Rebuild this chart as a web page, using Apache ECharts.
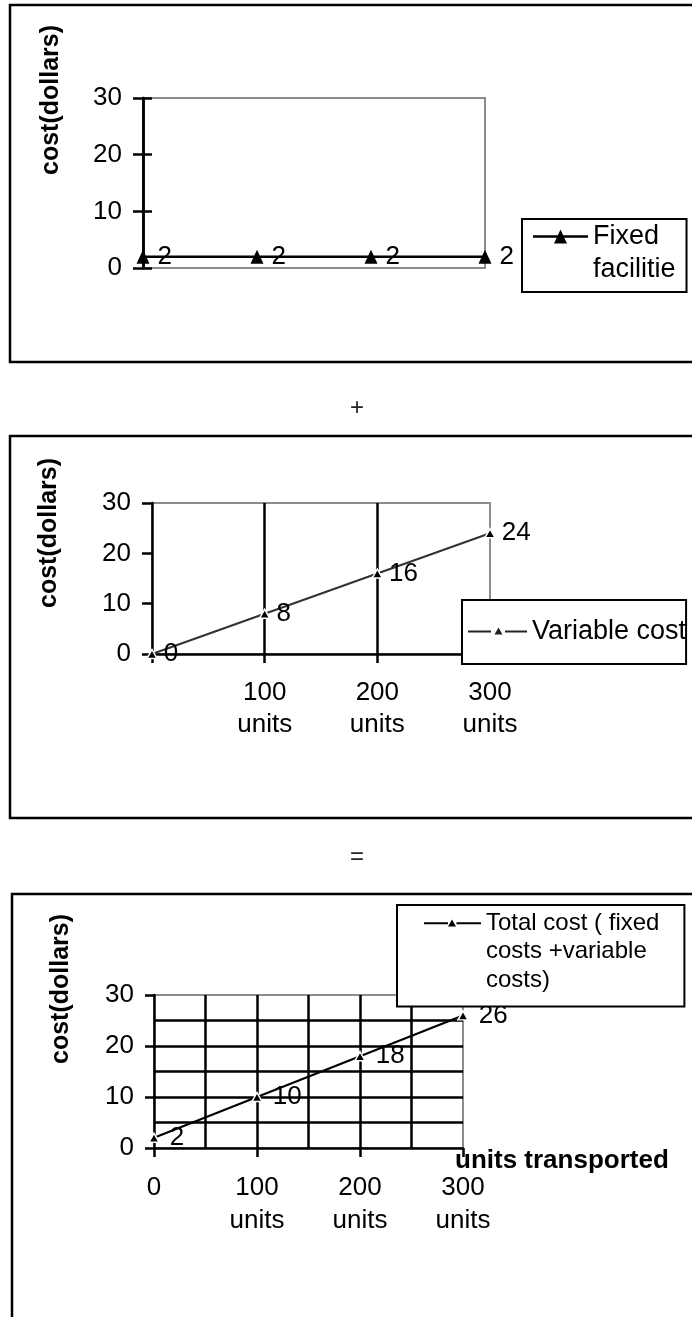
<!DOCTYPE html>
<html>
<head>
<meta charset="utf-8">
<script src="https://cdn.jsdelivr.net/npm/echarts@6/dist/echarts.min.js"></script>
<style>
html,body{margin:0;padding:0;background:#fff;}
#chart{width:692px;height:1317px;}
</style>
</head>
<body>
<div id="chart"></div>
<script>
// ---- data ----
const units = [0, 100, 200, 300];
const fixedCost = [2, 2, 2, 2];
const variableCost = [0, 8, 16, 24];
const totalCost = [2, 10, 18, 26];
const xLabelsVariable = ['', '100\nunits', '200\nunits', '300\nunits'];
const xLabelsTotal = ['0', '100\nunits', '200\nunits', '300\nunits'];
const seriesNames = ['Fixed\nfacilitie', 'Variable cost', 'Total cost ( fixed\ncosts +variable\ncosts)'];
const yTitle = 'cost(dollars)';
const xTitle = 'units transported';

const FONT = "'Liberation Sans', Arial, Helvetica, sans-serif";
const GRAY = '#8c8c8c';
const LW = 2.5;

const chart = echarts.init(document.getElementById('chart'), null, {renderer: 'canvas'});

function pairs(vals) { return units.map((u, i) => [u, vals[i]]); }

function yAxisBase(grid, extra) {
  return Object.assign({
    type: 'value', gridIndex: grid, min: 0, max: 30, interval: 10, position: 'left', offset: 0,
    axisLine: {show: true, onZero: false, lineStyle: {color: '#000', width: LW}},
    axisTick: {show: true, inside: false, length: 10, lineStyle: {color: '#000', width: LW}},
    axisLabel: {show: true, margin: 21, fontSize: 26, color: '#000', fontFamily: FONT},
    splitLine: {show: false}
  }, extra || {});
}

const option = {
  animation: false,
  backgroundColor: '#fff',
  textStyle: {fontFamily: FONT},
  grid: [
    {left: 143, top: 98, width: 342, height: 170, show: true, borderColor: GRAY, borderWidth: 2, outerBoundsMode: 'none', containLabel: false},
    {left: 152, top: 503, width: 338, height: 151, show: true, borderColor: GRAY, borderWidth: 2, outerBoundsMode: 'none', containLabel: false},
    {left: 154, top: 995, width: 309, height: 153, show: true, borderColor: GRAY, borderWidth: 2, outerBoundsMode: 'none', containLabel: false}
  ],
  xAxis: [
    {
      type: 'value', gridIndex: 0, min: 0, max: 300, interval: 100,
      axisLine: {show: true, onZero: false, lineStyle: {color: GRAY, width: 2}},
      axisTick: {show: false}, axisLabel: {show: false}, splitLine: {show: false}
    },
    {
      type: 'value', gridIndex: 1, min: 0, max: 300, interval: 100,
      axisLine: {show: true, onZero: false, lineStyle: {color: '#000', width: LW}},
      axisTick: {show: true, length: 9, lineStyle: {color: '#000', width: LW}},
      axisLabel: {show: true, margin: 23, fontSize: 26, lineHeight: 32, color: '#000', fontFamily: FONT,
        formatter: v => xLabelsVariable[units.indexOf(v)] || ''},
      splitLine: {show: true, showMinLine: false, showMaxLine: false, lineStyle: {color: '#000', width: LW}}
    },
    {
      type: 'value', gridIndex: 2, min: 0, max: 300, interval: 100,
      name: xTitle, nameLocation: 'end', nameGap: -8, nameMoveOverlap: false,
      nameTextStyle: {fontSize: 26, fontWeight: 'bold', color: '#000', fontFamily: FONT, align: 'left', verticalAlign: 'top'},
      axisLine: {show: true, onZero: false, lineStyle: {color: '#000', width: LW}},
      axisTick: {show: true, length: 9, lineStyle: {color: '#000', width: LW}},
      axisLabel: {show: true, margin: 23, fontSize: 26, lineHeight: 33, color: '#000', fontFamily: FONT,
        formatter: v => xLabelsTotal[units.indexOf(v)] || ''},
      splitLine: {show: true, showMinLine: false, showMaxLine: false, lineStyle: {color: '#000', width: LW}},
      minorTick: {show: false, splitNumber: 2},
      minorSplitLine: {show: true, lineStyle: {color: '#000', width: LW}}
    }
  ],
  yAxis: [
    yAxisBase(0),
    yAxisBase(0, {axisLabel: {show: false}, axisTick: {show: true, inside: true, length: 9, lineStyle: {color: '#000', width: LW}}}),
    yAxisBase(1),
    yAxisBase(2, {
      axisTick: {show: true, inside: false, length: 9, lineStyle: {color: '#000', width: LW}},
      axisLabel: {show: true, margin: 20, fontSize: 26, color: '#000', fontFamily: FONT},
      splitLine: {show: true, showMinLine: false, showMaxLine: false, lineStyle: {color: '#000', width: LW}},
      minorTick: {show: false, splitNumber: 2},
      minorSplitLine: {show: true, lineStyle: {color: '#000', width: LW}}
    })
  ],
  legend: [
    {
      data: [seriesNames[0]], left: 522, top: 219, orient: 'vertical', selectedMode: false,
      backgroundColor: '#fff', borderColor: '#000', borderWidth: 2, borderRadius: 0,
      padding: [1, 11, 6, 11], itemWidth: 55, itemHeight: 66,
      icon: 'path://M0,0L0.01,0M0,15.25L55,15.25L55,17.75L0,17.75ZM27.5,9.5L34,23.5L21,23.5ZM0,66L0.01,66',
      itemStyle: {color: '#000', borderWidth: 0},
      textStyle: {fontSize: 27, lineHeight: 33, color: '#000', fontFamily: FONT}
    },
    {
      data: [seriesNames[1]], left: 462, top: 600, orient: 'vertical', selectedMode: false,
      backgroundColor: '#fff', borderColor: '#000', borderWidth: 2, borderRadius: 0,
      padding: [15, 0, 16, 6], itemWidth: 59, itemHeight: 33,
      icon: 'path://M0,0L0.01,0M0,15.5L23,15.5L23,17.5L0,17.5ZM30.5,12.5L34.5,19.5L26.5,19.5ZM37,15.5L59,15.5L59,17.5L37,17.5ZM0,33L0.01,33',
      itemStyle: {color: '#222', borderWidth: 0},
      textStyle: {fontSize: 27, lineHeight: 33, color: '#000', fontFamily: FONT}
    },
    {
      data: [seriesNames[2]], left: 397, top: 905, orient: 'vertical', selectedMode: false,
      backgroundColor: '#fff', borderColor: '#000', borderWidth: 2, borderRadius: 0,
      padding: [4, 25, 12, 27], itemWidth: 57, itemHeight: 85.5,
      icon: 'path://M0,0L0.01,0M0,13.25L24,13.25L24,15.25L0,15.25ZM28,10.5L32,17.5L24,17.5ZM32.5,13.25L57,13.25L57,15.25L32.5,15.25ZM0,85.5L0.01,85.5',
      itemStyle: {color: '#000', borderWidth: 0},
      textStyle: {fontSize: 24, lineHeight: 28.5, color: '#000', fontFamily: FONT}
    }
  ],
  series: [
    {
      name: seriesNames[0], type: 'line', xAxisIndex: 0, yAxisIndex: 0, data: pairs(fixedCost), clip: false,
      symbol: 'triangle', symbolSize: [13, 14],
      lineStyle: {color: '#000', width: 2.5},
      itemStyle: {color: '#000', borderWidth: 0},
      label: {show: true, position: 'right', distance: 8, fontSize: 26, color: '#000', fontFamily: FONT}
    },
    {
      name: seriesNames[1], type: 'line', xAxisIndex: 1, yAxisIndex: 2, data: pairs(variableCost), clip: false,
      symbol: 'triangle', symbolSize: [10, 9],
      lineStyle: {color: '#333', width: 2.2},
      itemStyle: {color: '#000', borderColor: '#fff', borderWidth: 1.5},
      label: {show: true, position: 'right', distance: 6, fontSize: 26, color: '#000', fontFamily: FONT}
    },
    {
      name: seriesNames[2], type: 'line', xAxisIndex: 2, yAxisIndex: 3, data: pairs(totalCost), clip: false,
      symbol: 'triangle', symbolSize: [10, 9],
      lineStyle: {color: '#000', width: 2.2},
      itemStyle: {color: '#000', borderColor: '#fff', borderWidth: 1.5},
      label: {show: true, position: 'right', distance: 10, fontSize: 26, color: '#000', fontFamily: FONT}
    }
  ],
  graphic: [
    {type: 'rect', shape: {x: 10, y: 5, width: 720, height: 357}, style: {fill: 'none', stroke: '#000', lineWidth: 2.5}, silent: true, z: 100},
    {type: 'rect', shape: {x: 10, y: 436, width: 720, height: 382}, style: {fill: 'none', stroke: '#000', lineWidth: 2.5}, silent: true, z: 100},
    {type: 'rect', shape: {x: 12, y: 894, width: 720, height: 500}, style: {fill: 'none', stroke: '#000', lineWidth: 2.5}, silent: true, z: 100},
    {type: 'text', x: 51, y: 100, rotation: Math.PI / 2, style: {text: yTitle, font: 'bold 25px ' + FONT, fill: '#000', align: 'center', verticalAlign: 'middle'}, z: 100},
    {type: 'text', x: 49, y: 533, rotation: Math.PI / 2, style: {text: yTitle, font: 'bold 25px ' + FONT, fill: '#000', align: 'center', verticalAlign: 'middle'}, z: 100},
    {type: 'text', x: 61, y: 989, rotation: Math.PI / 2, style: {text: yTitle, font: 'bold 25px ' + FONT, fill: '#000', align: 'center', verticalAlign: 'middle'}, z: 100},
    {type: 'text', x: 357, y: 408, style: {text: '+', font: '24px ' + FONT, fill: '#222', align: 'center', verticalAlign: 'middle'}, z: 100},
    {type: 'text', x: 357, y: 857, style: {text: '=', font: '24px ' + FONT, fill: '#222', align: 'center', verticalAlign: 'middle'}, z: 100}
  ]
};
chart.setOption(option);
</script>
</body>
</html>
